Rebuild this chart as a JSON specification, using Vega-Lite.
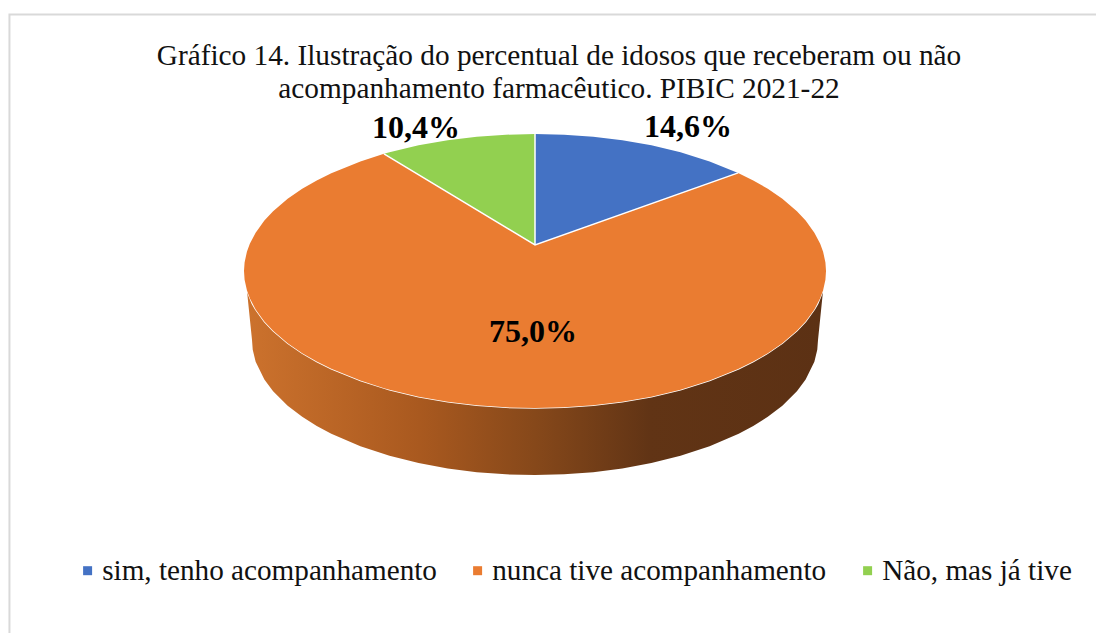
{
"$schema":"https://vega.github.io/schema/vega-lite/v6.json",
"width":1096,"height":633,"padding":0,"autosize":{"type":"none"},"background":"white",
"config":{"view":{"stroke":null}},
"title":{"text":["Gráfico 14. Ilustração do percentual de idosos que receberam ou não","acompanhamento farmacêutico. PIBIC 2021-22"],"font":"Liberation Serif","fontSize":29.3,"fontWeight":"normal","color":"#111111","lineHeight":33,"anchor":"middle","dx":11,"offset":-104,"orient":"top"},
"datasets":{
"parede":[
{"u":-0.99,"y":-0.141,"y2":-0.141},{"u":-0.9725,"y":-0.233,"y2":-0.504},{"u":-0.97,"y":-0.243,"y2":-0.574},{"u":-0.96,"y":-0.28,"y2":-0.662},{"u":-0.93,"y":-0.368,"y2":-0.792},{"u":-0.9,"y":-0.436,"y2":-0.877},{"u":-0.85,"y":-0.527,"y2":-0.983},{"u":-0.8,"y":-0.6,"y2":-1.064},{"u":-0.75,"y":-0.661,"y2":-1.131},{"u":-0.7,"y":-0.714,"y2":-1.188},{"u":-0.6,"y":-0.8,"y2":-1.279},{"u":-0.5,"y":-0.866,"y2":-1.349},{"u":-0.4,"y":-0.917,"y2":-1.402},{"u":-0.3,"y":-0.954,"y2":-1.441},{"u":-0.2,"y":-0.98,"y2":-1.468},{"u":-0.1,"y":-0.995,"y2":-1.484},{"u":0,"y":-1,"y2":-1.489},{"u":0.1,"y":-0.995,"y2":-1.484},{"u":0.2,"y":-0.98,"y2":-1.468},{"u":0.3,"y":-0.954,"y2":-1.441},{"u":0.4,"y":-0.917,"y2":-1.402},{"u":0.5,"y":-0.866,"y2":-1.349},{"u":0.6,"y":-0.8,"y2":-1.279},{"u":0.7,"y":-0.714,"y2":-1.188},{"u":0.75,"y":-0.661,"y2":-1.131},{"u":0.8,"y":-0.6,"y2":-1.064},{"u":0.85,"y":-0.527,"y2":-0.983},{"u":0.9,"y":-0.436,"y2":-0.877},{"u":0.93,"y":-0.368,"y2":-0.792},{"u":0.96,"y":-0.28,"y2":-0.662},{"u":0.97,"y":-0.243,"y2":-0.574},{"u":0.9725,"y":-0.233,"y2":-0.504},{"u":0.99,"y":-0.141,"y2":-0.141}],
"fatias":[
{"f":"nunca tive acompanhamento","u":-1,"y":0,"y2":0},{"f":"nunca tive acompanhamento","u":-0.998,"y":0.063,"y2":-0.063},{"f":"nunca tive acompanhamento","u":-0.99,"y":0.141,"y2":-0.141},{"f":"nunca tive acompanhamento","u":-0.98,"y":0.199,"y2":-0.199},{"f":"nunca tive acompanhamento","u":-0.96,"y":0.28,"y2":-0.28},{"f":"nunca tive acompanhamento","u":-0.93,"y":0.368,"y2":-0.368},{"f":"nunca tive acompanhamento","u":-0.9,"y":0.436,"y2":-0.436},{"f":"nunca tive acompanhamento","u":-0.85,"y":0.527,"y2":-0.527},{"f":"nunca tive acompanhamento","u":-0.8,"y":0.6,"y2":-0.6},{"f":"nunca tive acompanhamento","u":-0.75,"y":0.661,"y2":-0.661},{"f":"nunca tive acompanhamento","u":-0.7,"y":0.714,"y2":-0.714},{"f":"nunca tive acompanhamento","u":-0.6,"y":0.8,"y2":-0.8},{"f":"nunca tive acompanhamento","u":-0.519,"y":0.855,"y2":-0.855},{"f":"nunca tive acompanhamento","u":-0.5,"y":0.8305,"y2":-0.866},{"f":"nunca tive acompanhamento","u":-0.4,"y":0.702,"y2":-0.917},{"f":"nunca tive acompanhamento","u":-0.3,"y":0.574,"y2":-0.954},{"f":"nunca tive acompanhamento","u":-0.2,"y":0.446,"y2":-0.98},{"f":"nunca tive acompanhamento","u":-0.1,"y":0.318,"y2":-0.995},{"f":"nunca tive acompanhamento","u":0,"y":0.19,"y2":-1},{"f":"nunca tive acompanhamento","u":0.1,"y":0.265,"y2":-0.995},{"f":"nunca tive acompanhamento","u":0.2,"y":0.341,"y2":-0.98},{"f":"nunca tive acompanhamento","u":0.3,"y":0.416,"y2":-0.954},{"f":"nunca tive acompanhamento","u":0.4,"y":0.491,"y2":-0.917},{"f":"nunca tive acompanhamento","u":0.5,"y":0.567,"y2":-0.866},{"f":"nunca tive acompanhamento","u":0.6,"y":0.642,"y2":-0.8},{"f":"nunca tive acompanhamento","u":0.698,"y":0.716,"y2":-0.716},{"f":"nunca tive acompanhamento","u":0.75,"y":0.661,"y2":-0.661},{"f":"nunca tive acompanhamento","u":0.8,"y":0.6,"y2":-0.6},{"f":"nunca tive acompanhamento","u":0.85,"y":0.527,"y2":-0.527},{"f":"nunca tive acompanhamento","u":0.9,"y":0.436,"y2":-0.436},{"f":"nunca tive acompanhamento","u":0.93,"y":0.368,"y2":-0.368},{"f":"nunca tive acompanhamento","u":0.96,"y":0.28,"y2":-0.28},{"f":"nunca tive acompanhamento","u":0.98,"y":0.199,"y2":-0.199},{"f":"nunca tive acompanhamento","u":0.99,"y":0.141,"y2":-0.141},{"f":"nunca tive acompanhamento","u":0.998,"y":0.063,"y2":-0.063},{"f":"nunca tive acompanhamento","u":1,"y":0,"y2":0},
{"f":"Não, mas já tive","u":-0.519,"y":0.855,"y2":0.855},{"f":"Não, mas já tive","u":-0.5,"y":0.866,"y2":0.8305},{"f":"Não, mas já tive","u":-0.4,"y":0.917,"y2":0.702},{"f":"Não, mas já tive","u":-0.3,"y":0.954,"y2":0.574},{"f":"Não, mas já tive","u":-0.2,"y":0.98,"y2":0.446},{"f":"Não, mas já tive","u":-0.1,"y":0.995,"y2":0.318},{"f":"Não, mas já tive","u":0,"y":1,"y2":0.19},
{"f":"sim, tenho acompanhamento","u":0,"y":1,"y2":0.19},{"f":"sim, tenho acompanhamento","u":0.1,"y":0.995,"y2":0.265},{"f":"sim, tenho acompanhamento","u":0.2,"y":0.98,"y2":0.341},{"f":"sim, tenho acompanhamento","u":0.3,"y":0.954,"y2":0.416},{"f":"sim, tenho acompanhamento","u":0.4,"y":0.917,"y2":0.491},{"f":"sim, tenho acompanhamento","u":0.5,"y":0.866,"y2":0.567},{"f":"sim, tenho acompanhamento","u":0.6,"y":0.8,"y2":0.642},{"f":"sim, tenho acompanhamento","u":0.698,"y":0.716,"y2":0.716}],
"linhas":[
{"p":"a","o":1,"u":-0.519,"y":0.855},{"p":"a","o":2,"u":0,"y":0.19},{"p":"a","o":3,"u":0.698,"y":0.716},
{"p":"b","o":1,"u":0,"y":1},{"p":"b","o":2,"u":0,"y":0.19}],
"moldura":[{"o":1,"u":-1.806,"y":-2.7},{"o":2,"u":-1.806,"y":1.872},{"o":3,"u":1.95,"y":1.872}],
"rotulos":[
{"categoria":"sim, tenho acompanhamento","percentual":14.6,"rotulo":"14,6%","u":0.526,"y":1.051},
{"categoria":"nunca tive acompanhamento","percentual":75.0,"rotulo":"75,0%","u":-0.007,"y":-0.445},
{"categoria":"Não, mas já tive","percentual":10.4,"rotulo":"10,4%","u":-0.409,"y":1.044}]
},
"encoding":{
"x":{"field":"u","type":"quantitative","axis":null,"scale":{"domain":[-1.8385,1.9278],"nice":false,"zero":false}},
"y":{"field":"y","type":"quantitative","axis":null,"stack":null,"scale":{"domain":[-2.642,1.978],"nice":false,"zero":false}}
},
"layer":[
{"data":{"name":"moldura"},"mark":{"type":"line","stroke":"#D9D9D9","strokeWidth":2},"encoding":{"order":{"field":"o"}}},
{"data":{"name":"parede"},"mark":{"type":"area","fill":{"gradient":"linear","x1":0,"y1":0,"x2":1,"y2":0,"stops":[{"offset":0,"color":"#CC722D"},{"offset":0.3,"color":"#A9591F"},{"offset":0.5,"color":"#86481A"},{"offset":0.7,"color":"#613415"},{"offset":1,"color":"#5C3114"}]}},"encoding":{"y2":{"field":"y2"}}},
{"data":{"name":"parede"},"mark":{"type":"line","stroke":"white","strokeWidth":1.5}},
{"data":{"name":"fatias"},"mark":{"type":"area"},"encoding":{"y2":{"field":"y2"},"color":{"field":"f","type":"nominal","scale":{"domain":["sim, tenho acompanhamento","nunca tive acompanhamento","Não, mas já tive"],"range":["#4472C4","#EA7C31","#92D050"]},"legend":{"title":null,"orient":"none","legendX":73,"legendY":556,"direction":"horizontal","columns":3,"symbolType":"square","symbolSize":81,"symbolStrokeWidth":0,"labelFont":"Liberation Serif","labelFontSize":29.2,"labelColor":"#111111","labelLimit":500,"labelOffset":0,"columnPadding":26,"symbolOpacity":1}}}},
{"data":{"name":"linhas"},"mark":{"type":"line","stroke":"white","strokeWidth":1.5},"encoding":{"detail":{"field":"p"},"order":{"field":"o"}}},
{"data":{"name":"rotulos"},"mark":{"type":"text","font":"Liberation Serif","fontSize":32,"fontWeight":"bold","color":"black","align":"center","baseline":"middle"},"encoding":{"text":{"field":"rotulo"}}}
]
}
